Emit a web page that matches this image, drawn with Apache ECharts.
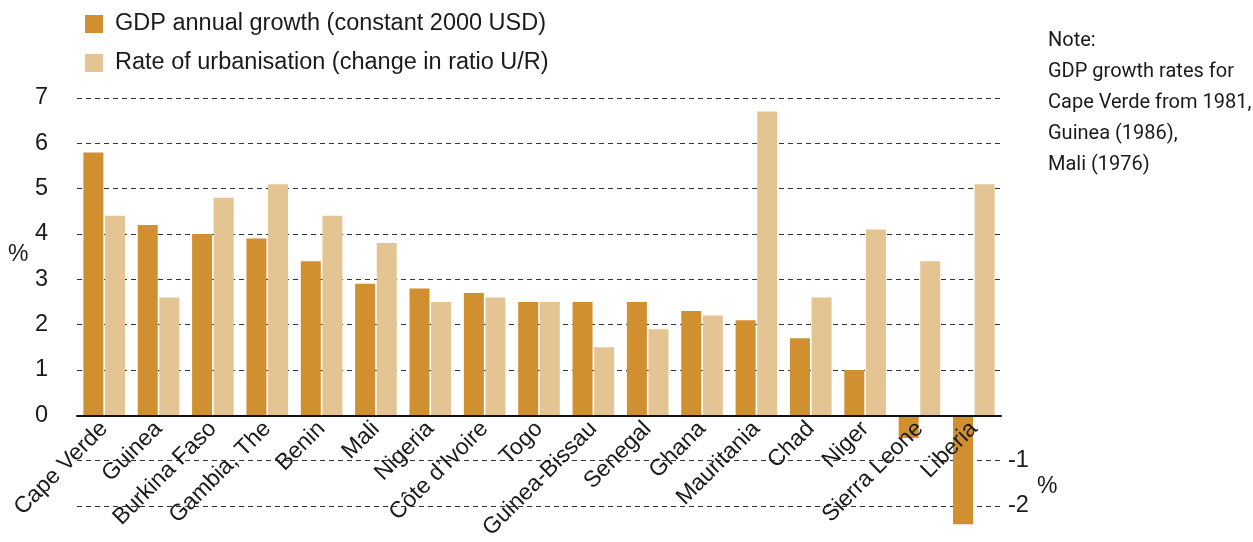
<!DOCTYPE html>
<html>
<head>
<meta charset="utf-8">
<style>
  html, body { margin: 0; padding: 0; background: #fff; }
  #chart { width: 1253px; height: 542px; }
</style>
<script src="https://cdn.jsdelivr.net/npm/echarts@6/dist/echarts.min.js"></script>
</head>
<body>
<div id="chart"></div>
<script>
// Countries, ordered by GDP growth
const categories = ['Cape Verde', 'Guinea', 'Burkina Faso', 'Gambia, The', 'Benin', 'Mali', 'Nigeria',
  'Côte d\u2019Ivoire', 'Togo', 'Guinea-Bissau', 'Senegal', 'Ghana', 'Mauritania', 'Chad', 'Niger',
  'Sierra Leone', 'Liberia'];

// GDP annual growth (constant 2000 USD), %
const gdpGrowth = [5.8, 4.2, 4.0, 3.9, 3.4, 2.9, 2.8, 2.7, 2.5, 2.5, 2.5, 2.3, 2.1, 1.7, 1.0, -0.5, -2.4];

// Rate of urbanisation (change in ratio U/R), %
const urbanisation = [4.4, 2.6, 4.8, 5.1, 4.4, 3.8, 2.5, 2.6, 2.5, 1.5, 1.9, 2.2, 6.7, 2.6, 4.1, 3.4, 5.1];

const seriesNames = ['GDP annual growth (constant 2000 USD)', 'Rate of urbanisation (change in ratio U/R)'];
const noteLines = ['Note:', 'GDP growth rates for', 'Cape Verde from 1981,', 'Guinea (1986),', 'Mali (1976)'];

const FONT = '"Liberation Sans", Arial, Helvetica, sans-serif';
const NOTE_FONT = 'Roboto, "Liberation Sans", sans-serif';
const TEXT = '#1a1a1a';

// Value range of the plot; the category axis sits on the zero line
const Y_MIN = -2, Y_MAX = 7;
const GRID_TOP = 98, GRID_BOTTOM = 36, CHART_H = 542;

const chart = echarts.init(document.getElementById('chart'), null, { renderer: 'canvas' });

// Lift the category axis (line and labels) from the grid bottom up to y = 0
const plotH = CHART_H - GRID_TOP - GRID_BOTTOM;
const zeroLift = plotH * (0 - Y_MIN) / (Y_MAX - Y_MIN);

const yCommon = {
  type: 'value', min: Y_MIN, max: Y_MAX, interval: 1,
  axisLine: { show: false }, axisTick: { show: false }
};

chart.setOption({
  animation: false,
  textStyle: { fontFamily: FONT, color: TEXT },
  legend: {
    orient: 'vertical',
    left: 80, top: 7,
    itemWidth: 18, itemHeight: 18, itemGap: 15,
    icon: 'rect',
    textStyle: { fontSize: 23.5, color: TEXT, fontFamily: FONT, padding: [0, 0, 0, 7] },
    data: seriesNames
  },
  grid: { left: 77, right: 252, top: GRID_TOP, bottom: GRID_BOTTOM, containLabel: false, outerBoundsMode: 'none' },
  xAxis: {
    type: 'category',
    data: categories,
    position: 'bottom',
    offset: -zeroLift,
    z: 10,
    axisLine: { onZero: false, lineStyle: { color: '#111', width: 2 } },
    axisTick: { show: false },
    axisLabel: { interval: 0, rotate: 45, fontSize: 23, color: TEXT, fontFamily: FONT, margin: 10 }
  },
  yAxis: [
    Object.assign({}, yCommon, {
      position: 'left',
      axisLabel: {
        fontSize: 23.5, color: TEXT, fontFamily: FONT, margin: 29,
        formatter: v => (v >= 0 ? String(v) : '')
      },
      splitLine: { show: true, lineStyle: { color: '#333', width: 1, type: [5, 4] } }
    }),
    Object.assign({}, yCommon, {
      position: 'right',
      axisLabel: {
        fontSize: 23.5, color: TEXT, fontFamily: FONT, margin: 7,
        formatter: v => (v < 0 ? String(v) : '')
      },
      splitLine: { show: false }
    })
  ],
  series: [
    {
      name: seriesNames[0], type: 'bar', data: gdpGrowth,
      barWidth: 20, barGap: '8%', clip: false,
      itemStyle: { color: '#D19030' }
    },
    {
      name: seriesNames[1], type: 'bar', data: urbanisation,
      barWidth: 20, barGap: '8%', clip: false,
      itemStyle: { color: '#E5C493' }
    }
  ],
  graphic: [
    { type: 'text', left: 8, top: 243, style: { text: '%', font: '23px ' + FONT, fill: TEXT } },
    { type: 'text', left: 1037, top: 475, style: { text: '%', font: '23px ' + FONT, fill: TEXT } },
    { type: 'text', left: 1048, top: 25,
      style: { text: noteLines.join('\n'), font: '20px ' + NOTE_FONT, lineHeight: 31, fill: TEXT } }
  ]
});
</script>
</body>
</html>
